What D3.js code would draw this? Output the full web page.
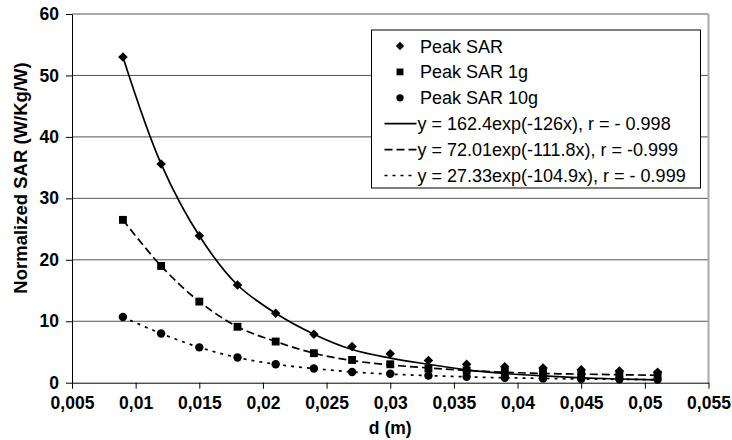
<!DOCTYPE html>
<html>
<head>
<meta charset="utf-8">
<script src="https://cdn.jsdelivr.net/npm/d3@7"></script>
<style>
  body { margin: 0; background: #fff; }
  svg { display: block; font-family: "Liberation Sans", Arial, sans-serif; }
  .axis path, .axis line { stroke: #000; }
  .axis text { font-weight: bold; font-size: 17.5px; fill: #000; }
</style>
</head>
<body>
<script>
// distance (m)
const distances = [0.009, 0.012, 0.015, 0.018, 0.021, 0.024, 0.027, 0.030, 0.033, 0.036, 0.039, 0.042, 0.045, 0.048, 0.051];

// measured points (W/Kg/W)
const peakSAR   = [53.0, 35.6, 23.9, 15.9, 11.3, 7.9, 5.9, 4.7, 3.6, 3.0, 2.6, 2.4, 2.1, 1.9, 1.7];
const peakSAR1g = [26.5, 19.0, 13.2, 9.1, 6.7, 4.8, 3.7, 3.0, 2.3, 2.0, 1.75, 1.65, 1.5, 1.4, 1.3];
const peakSAR10g = [10.7, 8.0, 5.75, 4.1, 3.0, 2.3, 1.75, 1.45, 1.15, 0.95, 0.8, 0.7, 0.6, 0.55, 0.5];

// fitted curves as drawn
const fitSAR   = [53.0, 35.6, 23.9, 15.9, 11.3, 7.9, 5.4, 4.0, 3.0, 2.1, 1.5, 1.1, 0.8, 0.6, 0.45];
const fitSAR1g = [26.5, 19.0, 13.2, 9.1, 6.7, 4.8, 3.6, 2.9, 2.4, 2.0, 1.7, 1.5, 1.4, 1.3, 1.2];
const fitSAR10g = [10.7, 8.0, 5.75, 4.1, 3.0, 2.3, 1.75, 1.4, 1.15, 0.95, 0.8, 0.7, 0.6, 0.55, 0.5];

const legendLabels = ["Peak SAR", "Peak SAR 1g", "Peak SAR 10g",
  "y = 162.4exp(-126x), r = - 0.998",
  "y = 72.01exp(-111.8x), r = -0.999",
  "y = 27.33exp(-104.9x), r = - 0.999"];

const xTicks = [0.005, 0.01, 0.015, 0.02, 0.025, 0.03, 0.035, 0.04, 0.045, 0.05, 0.055];
const xTickLabels = ["0,005", "0,01", "0,015", "0,02", "0,025", "0,03", "0,035", "0,04", "0,045", "0,05", "0,055"];
const yTicks = [0, 10, 20, 30, 40, 50, 60];

const width = 732, height = 440;
const plot = {left: 72, right: 708.5, top: 14, bottom: 382.7};

const svg = d3.select("body").append("svg")
  .attr("width", width)
  .attr("height", height);

const x = d3.scaleLinear().domain([0.005, 0.055]).range([plot.left, plot.right]);
const y = d3.scaleLinear().domain([0, 60]).range([plot.bottom, plot.top]);

// gridlines
svg.append("g")
  .selectAll("line")
  .data(yTicks.slice(1))
  .enter()
  .append("line")
  .attr("x1", plot.left)
  .attr("x2", plot.right)
  .attr("y1", d => y(d))
  .attr("y2", d => y(d))
  .style("stroke", "#555")
  .style("stroke-width", 1);

// right border of plot area
svg.append("line")
  .attr("x1", plot.right).attr("x2", plot.right)
  .attr("y1", plot.top).attr("y2", plot.bottom)
  .style("stroke", "#aaa")
  .style("stroke-width", 2);

const xAxis = d3.axisBottom(x)
  .tickValues(xTicks)
  .tickSize(6)
  .tickSizeOuter(0)
  .tickPadding(8)
  .tickFormat((d, i) => xTickLabels[i]);

const yAxis = d3.axisLeft(y)
  .tickValues(yTicks)
  .tickSize(6)
  .tickSizeOuter(0)
  .tickPadding(7);

svg.append("g")
  .attr("class", "x axis")
  .attr("transform", "translate(0," + plot.bottom + ")")
  .call(xAxis);

svg.append("g")
  .attr("class", "y axis")
  .attr("transform", "translate(" + plot.left + ",0)")
  .call(yAxis);

svg.append("text")
  .attr("x", (plot.left + plot.right) / 2)
  .attr("y", 434)
  .style("text-anchor", "middle")
  .style("font-weight", "bold")
  .style("font-size", "17.5px")
  .text("d (m)");

svg.append("text")
  .attr("transform", "translate(27,178) rotate(-90)")
  .style("text-anchor", "middle")
  .style("font-weight", "bold")
  .style("font-size", "18.5px")
  .text("Normalized SAR (W/Kg/W)");

// curves
const fits = [
  {values: fitSAR, dash: null},
  {values: fitSAR1g, dash: "8,4"},
  {values: fitSAR10g, dash: "3,5"}
];

const line = d3.line()
  .x((d, i) => x(distances[i]))
  .y(d => y(d))
  .curve(d3.curveCatmullRom);

svg.append("g")
  .selectAll("path")
  .data(fits)
  .enter()
  .append("path")
  .attr("d", d => line(d.values))
  .style("fill", "none")
  .style("stroke", "#000")
  .style("stroke-width", 1.7)
  .style("stroke-dasharray", d => d.dash);

// markers
const symbols = [
  {values: peakSAR, type: d3.symbolDiamond2, size: 58},
  {values: peakSAR1g, type: d3.symbolSquare, size: 62},
  {values: peakSAR10g, type: d3.symbolCircle, size: 56}
];

symbols.forEach(s => {
  svg.append("g")
    .selectAll("path")
    .data(s.values)
    .enter()
    .append("path")
    .attr("transform", (d, i) => "translate(" + x(distances[i]) + "," + y(d) + ")")
    .attr("d", d3.symbol().type(s.type).size(s.size))
    .style("fill", "#000");
});

// legend
const legend = svg.append("g").attr("transform", "translate(371.5,30)");

legend.append("rect")
  .attr("width", 329)
  .attr("height", 158)
  .style("fill", "#fff")
  .style("stroke", "#000")
  .style("stroke-width", 1);

const rowY = d3.scaleLinear().domain([0, 5]).range([16, 145.5]);

symbols.forEach((s, i) => {
  legend.append("path")
    .attr("transform", "translate(28.5," + rowY(i) + ")")
    .attr("d", d3.symbol().type(s.type).size(s.size * 0.75))
    .style("fill", "#000");
});

fits.forEach((f, i) => {
  legend.append("line")
    .attr("x1", 13).attr("x2", 45)
    .attr("y1", rowY(i + 3)).attr("y2", rowY(i + 3))
    .style("stroke", "#000")
    .style("stroke-width", 1.7)
    .style("stroke-dasharray", f.dash);
});

legend.selectAll("text.label")
  .data(legendLabels)
  .enter()
  .append("text")
  .attr("class", "label")
  .attr("x", (d, i) => i < 3 ? 48.5 : 46)
  .attr("y", (d, i) => rowY(i) + 6.5)
  .style("font-size", "18px")
  .text(d => d);
</script>
</body>
</html>
